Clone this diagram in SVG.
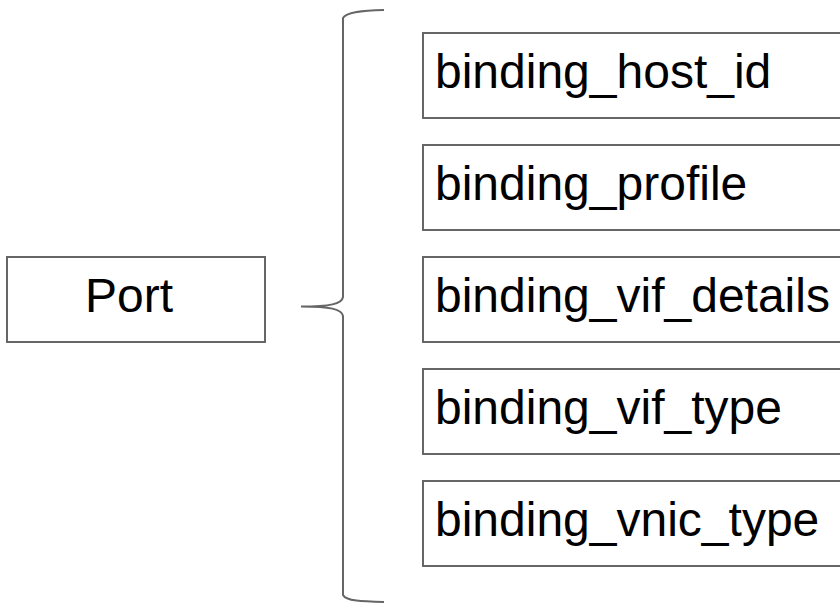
<svg xmlns="http://www.w3.org/2000/svg" width="840" height="603" viewBox="0 0 840 603">
  <style>
    .box { fill: #ffffff; stroke: #666666; stroke-width: 2; }
    .label { font-family: "Liberation Sans", Arial, sans-serif; font-size: 48px; fill: #000000; }
    .brace { fill: none; stroke: #666666; stroke-width: 2; }
  </style>
  <rect width="840" height="603" fill="#ffffff"/>

  <g id="port">
    <rect class="box" x="7" y="257" width="258" height="85"/>
    <text class="label" x="85" y="312">Port</text>
  </g>

  <g id="connectors">
    <path class="brace" d="M384,10 C362,10.5 346,12 343,18 L343,297 C342,304 330,306.5 301,306.5 C330,306.5 342,309 343,316 L343,595 C346,601 362,601.5 384,602"/>
  </g>

  <g id="binding_host_id">
    <rect class="box" x="423" y="33" width="430" height="85"/>
    <text class="label" x="435" y="88">binding_host_id</text>
  </g>
  <g id="binding_profile">
    <rect class="box" x="423" y="145" width="430" height="85"/>
    <text class="label" x="435" y="200">binding_profile</text>
  </g>
  <g id="binding_vif_details">
    <rect class="box" x="423" y="257" width="430" height="85"/>
    <text class="label" x="435" y="312">binding_vif_details</text>
  </g>
  <g id="binding_vif_type">
    <rect class="box" x="423" y="369" width="430" height="85"/>
    <text class="label" x="435" y="424">binding_vif_type</text>
  </g>
  <g id="binding_vnic_type">
    <rect class="box" x="423" y="481" width="430" height="85"/>
    <text class="label" x="435" y="536">binding_vnic_type</text>
  </g>
</svg>
